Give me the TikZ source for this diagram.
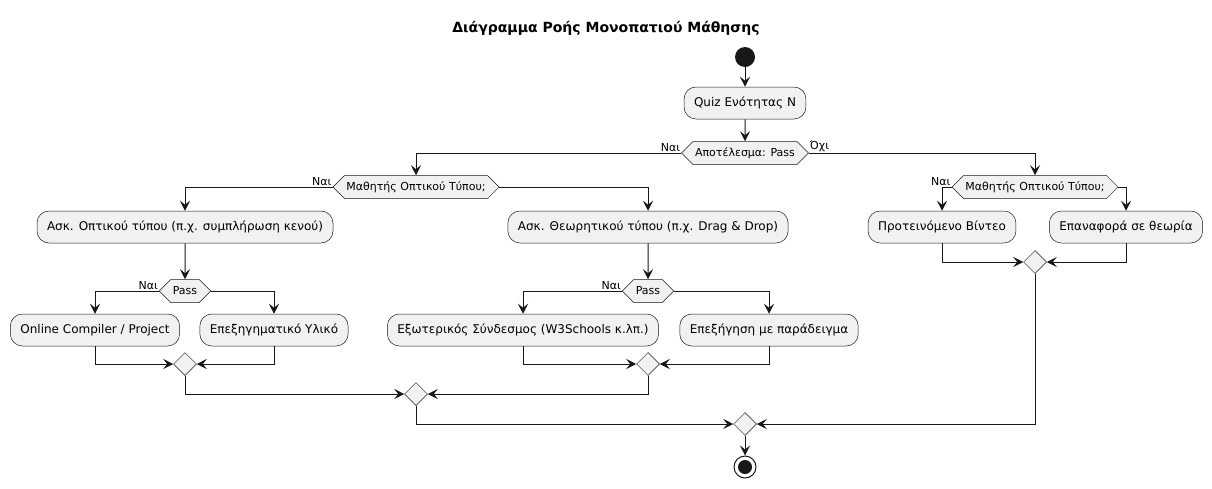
\documentclass[tikz,border=0pt]{standalone}
\usepackage{fontspec}
\setmainfont{DejaVu Sans}
\usetikzlibrary{arrows.meta,shapes.geometric,shapes.symbols}
\definecolor{boxgray}{HTML}{F1F1F1}
\definecolor{ink}{HTML}{181818}
\begin{document}
\begin{tikzpicture}[x=1pt,y=-1pt,
  act/.style={draw=ink,fill=boxgray,rounded corners=12pt,line width=0.5pt,minimum height=32pt,inner xsep=10pt,font=\fontsize{12}{14}\selectfont},
  cond/.style={signal,signal to=east and west,signal pointer angle=90,draw=ink,fill=boxgray,line width=0.5pt,minimum height=23pt,inner xsep=2pt,font=\fontsize{11}{13}\selectfont},
  merge/.style={diamond,draw=ink,fill=boxgray,line width=0.5pt,minimum size=23pt,inner sep=0pt},
  flow/.style={draw=ink,line width=1pt,-{Stealth[length=10pt,width=10pt,inset=4pt]}},
  lbl/.style={font=\fontsize{11}{13}\selectfont,inner sep=1pt}]
            \useasboundingbox (0,0) rectangle (1212,488);
            \node[font=\bfseries\fontsize{14}{16}\selectfont] (title) at (606,28) {Διάγραμμα Ροής Μονοπατιού Μάθησης};

            \node[circle,fill=ink,minimum size=20pt,inner sep=0pt] (start) at (745,57) {};
            \node[act] (quiz) at (745,103) {Quiz Ενότητας Ν};
            \node[cond] (res) at (745,153) {Αποτέλεσμα: Pass};

            % left branch
            \node[cond] (visL) at (416,187) {Μαθητής Οπτικού Τύπου;};
            \node[act] (askVis) at (185,227) {Ασκ. Οπτικού τύπου (π.χ. συμπλήρωση κενού)};
            \node[act] (askTh) at (648,227) {Ασκ. Θεωρητικού τύπου (π.χ. Drag \& Drop)};
            \node[cond] (passA) at (185,291) {Pass};
            \node[cond] (passB) at (648,291) {Pass};
            \node[act] (online) at (95,330) {Online Compiler / Project};
            \node[act] (expl) at (274,330) {Επεξηγηματικό Υλικό};
            \node[act] (ext) at (523,330) {Εξωτερικός Σύνδεσμος (W3Schools κ.λπ.)};
            \node[act] (example) at (769,330) {Επεξήγηση με παράδειγμα};
            \node[merge] (mA) at (185,364) {};
            \node[merge] (mB) at (648,364) {};
            \node[merge] (mAB) at (416,394) {};

            % right branch
            \node[cond] (visR) at (1035,187) {Μαθητής Οπτικού Τύπου;};
            \node[act] (video) at (942,227) {Προτεινόμενο Βίντεο};
            \node[act] (theory) at (1126,227) {Επαναφορά σε θεωρία};
            \node[merge] (mR) at (1035,262) {};

            \node[merge] (mAll) at (745,424) {};
            \node[circle,draw=ink,line width=1pt,fill=white,minimum size=22pt,inner sep=0pt] (stop) at (745,467) {};
            \fill[ink] (stop.center) circle (7pt);

            \draw[flow] (start) -- (quiz);
            \draw[flow] (quiz) -- (res);
            \draw[flow] (res.west) -| (visL.north);
            \draw[flow] (res.east) -| (visR.north);
            \node[lbl,anchor=south east] at (res.west) {Ναι};
            \node[lbl,anchor=south west] at (res.east) {Όχι};

            \draw[flow] (visL.west) -| (askVis.north);
            \draw[flow] (visL.east) -| (askTh.north);
            \node[lbl,anchor=south east] at (visL.west) {Ναι};
            \draw[flow] (askVis) -- (passA);
            \draw[flow] (askTh) -- (passB);
            \draw[flow] (passA.west) -| (online.north);
            \draw[flow] (passA.east) -| (expl.north);
            \node[lbl,anchor=south east] at (passA.west) {Ναι};
            \draw[flow] (passB.west) -| (ext.north);
            \draw[flow] (passB.east) -| (example.north);
            \node[lbl,anchor=south east] at (passB.west) {Ναι};
            \draw[flow] (online.south) |- (mA.west);
            \draw[flow] (expl.south) |- (mA.east);
            \draw[flow] (ext.south) |- (mB.west);
            \draw[flow] (example.south) |- (mB.east);
            \draw[flow] (mA.south) |- (mAB.west);
            \draw[flow] (mB.south) |- (mAB.east);

            \draw[flow] (visR.west) -| (video.north);
            \draw[flow] (visR.east) -| (theory.north);
            \node[lbl,anchor=south east] at (visR.west) {Ναι};
            \draw[flow] (video.south) |- (mR.west);
            \draw[flow] (theory.south) |- (mR.east);

            \draw[flow] (mAB.south) |- (mAll.west);
            \draw[flow] (mR.south) |- (mAll.east);
            \draw[flow] (mAll) -- (stop);
        \end{tikzpicture}
\end{document}
